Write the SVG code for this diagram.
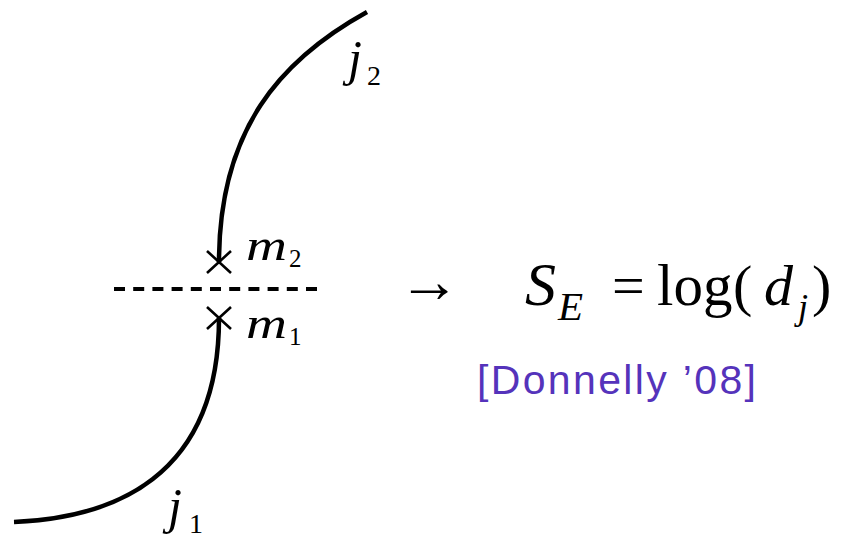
<svg xmlns="http://www.w3.org/2000/svg" width="842" height="538" viewBox="0 0 842 538">
<style>
.curve{fill:none;stroke:#000;stroke-width:4.5;stroke-linecap:butt}
.cross{fill:none;stroke:#000;stroke-width:2.6}
.dash{fill:none;stroke:#000;stroke-width:4;stroke-dasharray:11 8.2}
.mi{font-family:"Liberation Serif","Times New Roman",serif;font-style:italic;fill:#000}
.rm{font-family:"Liberation Serif","Times New Roman",serif;fill:#000}
.cite{font-family:"Liberation Sans",Arial,sans-serif;fill:#5533bb}
</style>
<rect width="842" height="538" fill="#fff"/>
<g id="connectors">
<path class="curve" d="M367,12 C280,60 219,130 219,262"/>
<path class="curve" d="M14,522 C110,518 219,480 219,318"/>
<path class="dash" d="M114,289 H318"/>
</g>
<g id="marker-m2">
<path class="cross" d="M207,251 L231,273 M231,251 L207,273"/>
<text class="mi" x="246" y="260" font-size="44" textLength="41" lengthAdjust="spacingAndGlyphs">m</text>
<text class="rm" x="289" y="267" font-size="25">2</text>
</g>
<g id="marker-m1">
<path class="cross" d="M207,307 L231,329 M231,307 L207,329"/>
<text class="mi" x="246" y="338" font-size="44" textLength="41" lengthAdjust="spacingAndGlyphs">m</text>
<text class="rm" x="289" y="345" font-size="25">1</text>
</g>
<g id="label-j2">
<text class="mi" x="348" y="75" font-size="50">j</text>
<text class="rm" x="367" y="85" font-size="28">2</text>
</g>
<g id="label-j1">
<text class="mi" x="168" y="523" font-size="50">j</text>
<text class="rm" x="189" y="533" font-size="28">1</text>
</g>
<g id="formula">
<text class="rm" x="398" y="302" font-size="62">→</text>
<text class="mi" x="525" y="305" font-size="62">S</text>
<text class="mi" x="558" y="320" font-size="41">E</text>
<text class="rm" x="612" y="305" font-size="58">=</text>
<text class="rm" x="657" y="305" font-size="59">log</text>
<text class="rm" x="733" y="305" font-size="58">(</text>
<text class="mi" x="764" y="305" font-size="58">d</text>
<text class="mi" x="798" y="319" font-size="36">j</text>
<text class="rm" x="812" y="305" font-size="58">)</text>
</g>
<g id="citation">
<text class="cite" x="477" y="394" font-size="41" textLength="279" lengthAdjust="spacing">[Donnelly ’08]</text>
</g>
</svg>
